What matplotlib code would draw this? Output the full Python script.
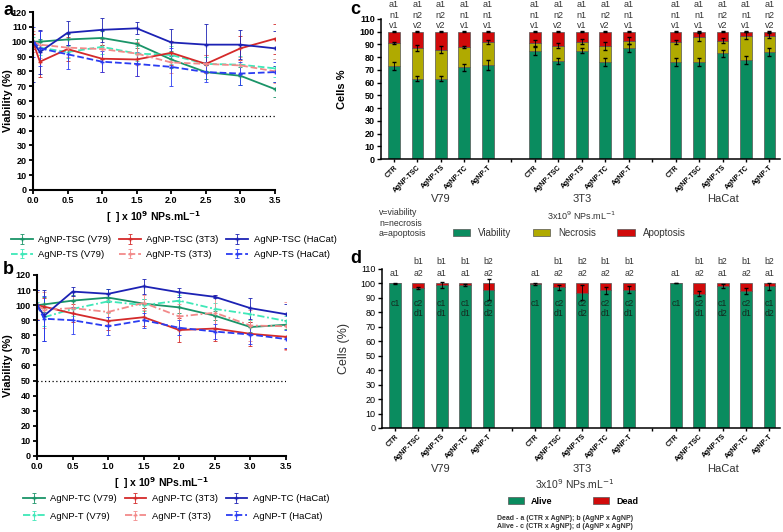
import numpy as np
import matplotlib
matplotlib.use("Agg")
import matplotlib.pyplot as plt
from matplotlib.patches import Patch

plt.rcParams['font.family'] = ['Liberation Sans', 'DejaVu Sans']

# ---- line charts (a, b) ----
conc = [0, 0.1, 0.5, 1.0, 1.5, 2.0, 2.5, 3.0, 3.5]

tsc_v79 = [100, 100, 101.5, 102.5, 98.5, 88, 79.5, 77, 68]
tsc_3t3 = [100, 86.5, 95, 88.5, 88, 92.5, 85, 95.5, 102]
tsc_hacat = [100, 93, 106, 108, 109, 99.5, 98, 98, 95.5]
ts_v79 = [100, 96, 93, 96.5, 92, 91, 85, 84.5, 82]
ts_3t3 = [100, 98, 96, 95, 92, 86, 85, 84, 80]
ts_hacat = [100, 95.5, 91.5, 86.5, 85, 83, 79.5, 78.5, 79.5]
tsc_v79_err = [0, 2, 4, 5, 3, 6, 5, 6, 5]
tsc_3t3_err = [5, 10, 8, 9, 11, 8, 6, 8, 10]
tsc_hacat_err = [27, 15, 8, 8, 4, 9, 14, 10, 12]
ts_v79_err = [3, 5, 4, 5, 5, 6, 5, 6, 6]
ts_3t3_err = [7, 9, 6, 7, 8, 7, 6, 6, 8]
ts_hacat_err = [10, 12, 10, 7, 8, 13, 7, 8, 7]

tc_v79 = [100, 100.5, 103, 105, 101, 98.5, 93, 85.5, 87]
tc_3t3 = [100, 99, 94.5, 89.5, 92, 83.5, 84.5, 81, 79]
tc_hacat = [100, 93, 109, 107.5, 112.5, 108.5, 105.5, 98, 94]
t_v79 = [100, 92, 97.5, 102.5, 100, 103, 97.5, 94, 89.5]
t_3t3 = [100, 97, 98, 95.5, 101.5, 92.5, 95, 86.5, 86]
t_hacat = [100, 91, 90, 86, 90, 85, 82.5, 80.5, 77.5]
tc_v79_err = [0, 5, 4, 3, 3, 4, 3, 3, 3]
tc_3t3_err = [10, 6, 6, 6, 6, 8, 8, 8, 8]
tc_hacat_err = [10, 17, 3, 3, 5, 3, 1, 7, 7]
t_v79_err = [2, 6, 5, 8, 4, 4, 4, 4, 3]
t_3t3_err = [9, 12, 8, 8, 5, 8, 12, 10, 16]
t_hacat_err = [10, 15, 9, 6, 5, 5, 5, 6, 6]

# ---- bar charts (c, d) ----
groups = ['V79', '3T3', 'HaCat']
treatments = ['CTR', 'AgNP-TSC', 'AgNP-TS', 'AgNP-TC', 'AgNP-T']

viab = [73, 63, 63, 72, 74, 85, 77, 85, 76, 87, 76, 76, 83, 78, 84]
viab_nec = [91, 87, 86, 88, 92, 91, 89, 92, 89, 93, 92, 96, 93, 97, 97]
viab_err = [3, 2, 2, 3, 4, 3, 2, 2, 3, 3, 3, 3, 3, 3, 3]
nec_err = [1, 2.5, 2.5, 1, 1.5, 2.5, 2, 2, 3, 3, 1.5, 3, 2, 3, 2]
lab_a = ['a1'] * 15
lab_n = ['n1', 'n2', 'n2', 'n1', 'n1', 'n1', 'n2', 'n1', 'n2', 'n1', 'n1', 'n1', 'n2', 'n1', 'n2']
lab_v = ['v1', 'v2', 'v2', 'v1', 'v1', 'v1', 'v2', 'v1', 'v2', 'v1', 'v1', 'v1', 'v2', 'v1', 'v2']

alive = [100, 96.7, 98.8, 99, 95.8, 99.6, 97.2, 93.7, 95.3, 95.8, 100, 93, 98.4, 95, 98]
alive_err = [0.5, 0.5, 2, 0.5, 7, 0.5, 2, 5, 2.5, 2.5, 0, 2, 1.5, 2, 2.5]
lab_b = ['', 'b1', 'b1', 'b1', 'b2', '', 'b1', 'b2', 'b1', 'b1', '', 'b1', 'b2', 'b1', 'b2']
lab_a2 = ['a1', 'a2', 'a1', 'a1', 'a2', 'a1', 'a2', 'a2', 'a2', 'a2', 'a1', 'a2', 'a1', 'a2', 'a1']
lab_c = ['c1', 'c2', 'c1', 'c1', 'c2', 'c1', 'c2', 'c2', 'c2', 'c2', 'c1', 'c2', 'c1', 'c2', 'c1']
lab_d = ['', 'd1', 'd1', 'd1', 'd2', '', 'd1', 'd2', 'd1', 'd1', '', 'd1', 'd2', 'd1', 'd2']

GREEN = '#1a9468'
RED = '#d42a2a'
BLUE = '#1c22b4'
LGREEN = '#3ee8b8'
PINK = '#f28a8a'
LBLUE = '#2a3cf2'

BGREEN = '#0a8c5f'
BYELLOW = '#b0aa00'
BRED = '#d10a0a'
TXT = '#333333'

fig = plt.figure(figsize=(7.83, 5.32), dpi=100)


def style_line_ax(ax):
    ax.set_xlim(0, 3.5)
    ax.set_ylim(0, 120)
    ax.set_xticks(np.arange(0, 3.6, 0.5))
    ax.set_xticklabels(['%.1f' % v for v in np.arange(0, 3.6, 0.5)])
    ax.set_yticks(range(0, 121, 10))
    for s in ['top', 'right']:
        ax.spines[s].set_visible(False)
    for s in ['left', 'bottom']:
        ax.spines[s].set_linewidth(1.5)
    ax.tick_params(width=1.3, length=3, labelsize=6.5, pad=1.5)
    for lab in ax.get_xticklabels() + ax.get_yticklabels():
        lab.set_fontweight('bold')
    ax.plot([0, 3.5], [50, 50], ls=(0, (1, 2)), color='k', lw=0.9)
    ax.set_ylabel('Viability (%)', fontsize=8, fontweight='bold')
    ax.set_xlabel(r'[  ] x 10$^{\mathbf{9}}$ NPs.mL$^{\mathbf{-1}}$', fontsize=7.5,
                  fontweight='bold', labelpad=3)


def draw_series(ax, y, err, color, ls, label):
    ax.errorbar(conc, y, yerr=err, color=color, ls=ls, lw=1.3, marker='+', ms=3,
                elinewidth=0.6, capsize=1.5, capthick=0.6, label=label)


# panel a
axa = fig.add_axes([0.0421, 0.6429, 0.3091, 0.3345])
draw_series(axa, tsc_v79, tsc_v79_err, GREEN, '-', 'AgNP-TSC (V79)')
draw_series(axa, ts_v79, ts_v79_err, LGREEN, '--', 'AgNP-TS (V79)')
draw_series(axa, tsc_3t3, tsc_3t3_err, RED, '-', 'AgNP-TSC (3T3)')
draw_series(axa, ts_3t3, ts_3t3_err, PINK, '--', 'AgNP-TS (3T3)')
draw_series(axa, tsc_hacat, tsc_hacat_err, BLUE, '-', 'AgNP-TSC (HaCat)')
draw_series(axa, ts_hacat, ts_hacat_err, LBLUE, '--', 'AgNP-TS (HaCat)')
style_line_ax(axa)
axa.yaxis.set_label_coords(-0.083, 0.5)
h, l = axa.get_legend_handles_labels()
fig.legend(h, l, loc='center', bbox_to_anchor=(0.222, 0.5357), ncol=3, frameon=False,
           fontsize=6.8, handlelength=2.3, columnspacing=0.8, handletextpad=0.6,
           labelspacing=0.6)

# panel b
DASHDOT = (0, (4, 1.5, 1, 1.5))
axb = fig.add_axes([0.0473, 0.1429, 0.3180, 0.3402])
draw_series(axb, tc_v79, tc_v79_err, GREEN, '-', 'AgNP-TC (V79)')
draw_series(axb, t_v79, t_v79_err, LGREEN, DASHDOT, 'AgNP-T (V79)')
draw_series(axb, tc_3t3, tc_3t3_err, RED, '-', 'AgNP-TC (3T3)')
draw_series(axb, t_3t3, t_3t3_err, PINK, DASHDOT, 'AgNP-T (3T3)')
draw_series(axb, tc_hacat, tc_hacat_err, BLUE, '-', 'AgNP-TC (HaCat)')
draw_series(axb, t_hacat, t_hacat_err, LBLUE, '--', 'AgNP-T (HaCat)')
style_line_ax(axb)
axb.yaxis.set_label_coords(-0.095, 0.5)
h, l = axb.get_legend_handles_labels()
fig.legend(h, l, loc='center', bbox_to_anchor=(0.225, 0.046), ncol=3, frameon=False,
           fontsize=6.8, handlelength=2.3, columnspacing=0.8, handletextpad=0.6,
           labelspacing=0.9)

# bar positions
pos = [g * 6 + i for g in range(len(groups)) for i in range(len(treatments))]
ticklabels = treatments * len(groups)


def style_bar_ax(ax, bold):
    ax.set_xlim(-0.55, 16.45)
    ax.set_ylim(0, 110)
    ax.set_yticks(range(0, 111, 10))
    ax.set_xticks(pos)
    ax.set_xticklabels(ticklabels, rotation=45, ha='right', rotation_mode='anchor',
                       fontweight='bold')
    ax.set_xticks([5, 11], minor=True)
    for s in ['top', 'right']:
        ax.spines[s].set_visible(False)
    for s in ['left', 'bottom']:
        ax.spines[s].set_linewidth(1.1)
    ax.tick_params(axis='y', width=1, length=3, labelsize=6.5, pad=1.5)
    ax.tick_params(axis='x', which='both', width=1, length=2.5, pad=1, labelsize=5)
    if bold:
        for lab in ax.get_yticklabels():
            lab.set_fontweight('bold')


# panel c
axc = fig.add_axes([0.4866, 0.7011, 0.5096, 0.2632])
w = 0.5
viab = np.array(viab)
viab_nec = np.array(viab_nec)
axc.bar(pos, viab, w, color=BGREEN, edgecolor='#555555', lw=0.5)
axc.bar(pos, viab_nec - viab, w, bottom=viab, color=BYELLOW, edgecolor='#555555', lw=0.5)
axc.bar(pos, 100 - viab_nec, w, bottom=viab_nec, color=BRED, edgecolor='#555555', lw=0.5)
axc.errorbar(pos, viab, yerr=viab_err, fmt='none', ecolor='k', elinewidth=0.6, capsize=1.5)
axc.errorbar(pos, viab_nec, yerr=nec_err, fmt='none', ecolor='k', elinewidth=0.6, capsize=1.5)
axc.errorbar(pos, [100] * 15, yerr=0.4, fmt='none', ecolor='k', elinewidth=0.6, capsize=1.5)
style_bar_ax(axc, True)
axc.set_ylabel('Cells %', fontsize=8, fontweight='bold')
axc.yaxis.set_label_coords(-0.085, 0.5)
for x, a, n, v in zip(pos, lab_a, lab_n, lab_v):
    axc.text(x, 121.5, a, ha='center', va='center', fontsize=6.5, color=TXT, clip_on=False)
    axc.text(x, 113, n, ha='center', va='center', fontsize=6.5, color=TXT, clip_on=False)
    axc.text(x, 104.5, v, ha='center', va='center', fontsize=6.5, color=TXT, clip_on=False)
for g, name in enumerate(groups):
    fig.text((394 + (g * 6 + 2) * 23.5) / 783, 1 - 199 / 532, name, ha='center', va='center',
             fontsize=8, color=TXT)
fig.text(582 / 783, 1 - 216 / 532, r'3x10$^{9}$ NPs.mL$^{-1}$', ha='center', va='center',
         fontsize=6.5, color=TXT)
fig.text(379 / 783, 1 - 223 / 532, 'v=viability\nn=necrosis\na=apoptosis', ha='left',
         va='center', fontsize=6.3, color=TXT, linespacing=1.15)
fig.legend([Patch(facecolor=BGREEN, edgecolor='#555555', lw=0.5),
            Patch(facecolor=BYELLOW, edgecolor='#555555', lw=0.5),
            Patch(facecolor=BRED, edgecolor='#555555', lw=0.5)],
           ['Viability', 'Necrosis', 'Apoptosis'], loc='center',
           bbox_to_anchor=(0.727, 1 - 233 / 532), ncol=3, frameon=False, fontsize=7,
           handlelength=1.8, handleheight=0.7, columnspacing=2.2, handletextpad=0.8,
           labelcolor=TXT)

# panel d
axd = fig.add_axes([0.4879, 0.1955, 0.5083, 0.2989])
alive = np.array(alive)
axd.bar(pos, alive, w, color=BGREEN, edgecolor='#555555', lw=0.5)
axd.bar(pos, 100 - alive, w, bottom=alive, color=BRED, edgecolor='#555555', lw=0.5)
axd.errorbar(pos, alive, yerr=alive_err, fmt='none', ecolor='k', elinewidth=0.6, capsize=1.5)
style_bar_ax(axd, False)
axd.set_ylabel('Cells (%)', fontsize=9, color=TXT)
axd.yaxis.set_label_coords(-0.08, 0.5)
for x, b, a, c, d in zip(pos, lab_b, lab_a2, lab_c, lab_d):
    axd.text(x, 115.5, b, ha='center', va='center', fontsize=6.3, color=TXT, clip_on=False)
    axd.text(x, 107, a, ha='center', va='center', fontsize=6.3, color=TXT, clip_on=False)
    axd.text(x, 86, c, ha='center', va='center', fontsize=6.3, color='#15291f')
    axd.text(x, 79, d, ha='center', va='center', fontsize=6.3, color='#15291f')
for g, name in enumerate(groups):
    fig.text((394 + (g * 6 + 2) * 23.5) / 783, 1 - 469 / 532, name, ha='center', va='center',
             fontsize=8, color=TXT)
fig.text(575 / 783, 1 - 484 / 532, r'3x10$^{9}$ NPs.mL$^{-1}$', ha='center', va='center',
         fontsize=7.5, color=TXT)
fig.legend([Patch(facecolor=BGREEN, edgecolor='#555555', lw=0.5),
            Patch(facecolor=BRED, edgecolor='#555555', lw=0.5)],
           ['Alive', 'Dead'], loc='center', bbox_to_anchor=(0.732, 1 - 501 / 532), ncol=2,
           frameon=False, prop={'size': 6.5, 'weight': 'bold'}, handlelength=1.8,
           handleheight=0.7, columnspacing=4.5, handletextpad=0.8)
fig.text(565 / 783, 1 - 522.5 / 532,
         'Dead - a (CTR x AgNP); b (AgNP x AgNP)\nAlive - c (CTR x AgNP); d (AgNP x AgNP)',
         ha='center', va='center', fontsize=5, fontweight='bold', color=TXT, linespacing=1.2)

# panel letters
fig.text(0.004, 0.997, 'a', fontsize=13, fontweight='bold', va='top')
fig.text(0.004, 0.51, 'b', fontsize=13, fontweight='bold', va='top')
fig.text(0.447, 0.998, 'c', fontsize=13, fontweight='bold', va='top')
fig.text(0.447, 0.53, 'd', fontsize=13, fontweight='bold', va='top')

fig.savefig('out.png', dpi=100)
